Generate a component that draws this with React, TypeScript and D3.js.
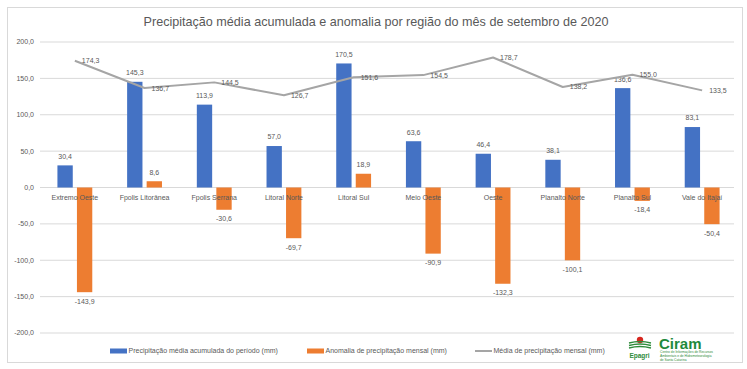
import * as d3 from 'd3';

const categories = ['Extremo Oeste', 'Fpolis Litorânea', 'Fpolis Serrana', 'Litoral Norte', 'Litoral Sul', 'Meio Oeste', 'Oeste', 'Planalto Norte', 'Planalto Sul', 'Vale do Itajaí'];
const acumulada = [30.4, 145.3, 113.9, 57.0, 170.5, 63.6, 46.4, 38.1, 136.6, 83.1];
const anomalia = [-143.9, 8.6, -30.6, -69.7, 18.9, -90.9, -132.3, -100.1, -18.4, -50.4];
const media = [174.3, 136.7, 144.5, 126.7, 151.6, 154.5, 178.7, 138.2, 155.0, 133.5];
const yTicks = [200, 150, 100, 50, 0, -50, -100, -150, -200];

const W = 747;
const H = 369;
const FONT = '"Liberation Sans", Arial, sans-serif';
const TXT = '#595959';
const BLUE = '#4472C4';
const ORANGE = '#ED7D31';
const GRAY = '#A5A5A5';

const fmt = (v: number) => v.toFixed(1).replace('.', ',');

export default function App() {
  const x = d3.scaleBand<string>().domain(categories).range([40, 737]);
  const y = d3.scaleLinear().domain([-200, 200]).range([333, 42]);
  const bw = x.bandwidth();
  const barW = bw * 0.22;
  const gap = bw * 0.06;
  const cx = (c: string) => (x(c) as number) + bw / 2;
  const y0 = y(0);

  const line = d3.line<number>()
    .x((_, i) => cx(categories[i]))
    .y(d => y(d));

  return (
    <svg width={W} height={H} style={{ position: 'absolute', left: 0, top: 0, background: '#fff' }} fontFamily={FONT}>
      <rect x={7.5} y={7.5} width={735} height={355} fill="#fff" stroke="#d9d9d9" />

      <text x={376} y={26} textAnchor="middle" fontSize={12.6} fill={TXT}>
        Precipitação média acumulada e anomalia por região do mês de setembro de 2020
      </text>

      {/* grid + y axis */}
      {yTicks.map(t => (
        <g key={t}>
          <line x1={40} x2={734} y1={y(t)} y2={y(t)} stroke="#d9d9d9" strokeWidth={1} />
          <text x={34} y={y(t)} dy="0.35em" textAnchor="end" fontSize={7} fill={TXT}>{fmt(t)}</text>
        </g>
      ))}

      {/* bars */}
      {categories.map((c, i) => {
        const a = acumulada[i];
        const b = anomalia[i];
        const bx = cx(c) - gap / 2 - barW;
        const ox = cx(c) + gap / 2;
        return (
          <g key={c}>
            <rect x={bx} y={y(Math.max(0, a))} width={barW} height={Math.abs(y(a) - y0)} fill={BLUE} />
            <rect x={ox} y={y(Math.max(0, b))} width={barW} height={Math.abs(y(b) - y0)} fill={ORANGE} />
          </g>
        );
      })}

      {/* category labels */}
      {categories.map(c => (
        <text key={c} x={cx(c)} y={197.5} dy="0.35em" textAnchor="middle" fontSize={7} fill={TXT}>{c}</text>
      ))}

      {/* bar labels */}
      {categories.map((c, i) => {
        const a = acumulada[i];
        const b = anomalia[i];
        const bc = cx(c) - gap / 2 - barW / 2;
        const oc = cx(c) + gap / 2 + barW / 2;
        return (
          <g key={c} fontSize={7} fill={TXT} textAnchor="middle">
            <text x={bc} y={y(a) - 9} dy="0.35em">{fmt(a)}</text>
            <text x={oc} y={b >= 0 ? y(b) - 9 : y(b) + 9} dy="0.35em">{fmt(b)}</text>
          </g>
        );
      })}

      {/* mean line */}
      <path d={line(media) || ''} fill="none" stroke={GRAY} strokeWidth={2} strokeLinejoin="round" />
      {categories.map((c, i) => (
        <text key={c} x={cx(c) + 7} y={y(media[i])} dy="0.35em" fontSize={7} fill={TXT}>{fmt(media[i])}</text>
      ))}

      {/* legend */}
      <g fontSize={7} fill={TXT}>
        <rect x={110} y={348.5} width={17} height={5} fill={BLUE} />
        <text x={128.5} y={351} dy="0.35em">Precipitação média acumulada do período (mm)</text>
        <rect x={307} y={348.5} width={17} height={5} fill={ORANGE} />
        <text x={325.5} y={351} dy="0.35em">Anomalia de precipitação mensal (mm)</text>
        <line x1={475} x2={492} y1={351} y2={351} stroke={GRAY} strokeWidth={2} />
        <text x={493.5} y={351} dy="0.35em">Média de precipitação mensal (mm)</text>
      </g>

      {/* Ciram / Epagri logo */}
      <g>
        <circle cx={640} cy={340} r={3.2} fill="#d7261e" />
        <path d="M629,343 Q640,340 651,343 M629,345.5 Q640,342.5 651,345.5 M629,348 Q640,345 651,348" fill="none" stroke="#2e8b3a" strokeWidth={1.4} />
        <text x={639.5} y={358} textAnchor="middle" fontSize={6.5} fontWeight="bold" fill="#2e8b3a">Epagri</text>
        <text x={659} y={348.5} fontSize={15} fontWeight="bold" fill="#1f8a3c">Ciram</text>
        <g fontSize={3.3} fill="#2e8b3a">
          <text x={660} y={353}>Centro de Informações de Recursos</text>
          <text x={660} y={357}>Ambientais e de Hidrometeorologia</text>
          <text x={660} y={361}>de Santa Catarina</text>
        </g>
      </g>
    </svg>
  );
}
